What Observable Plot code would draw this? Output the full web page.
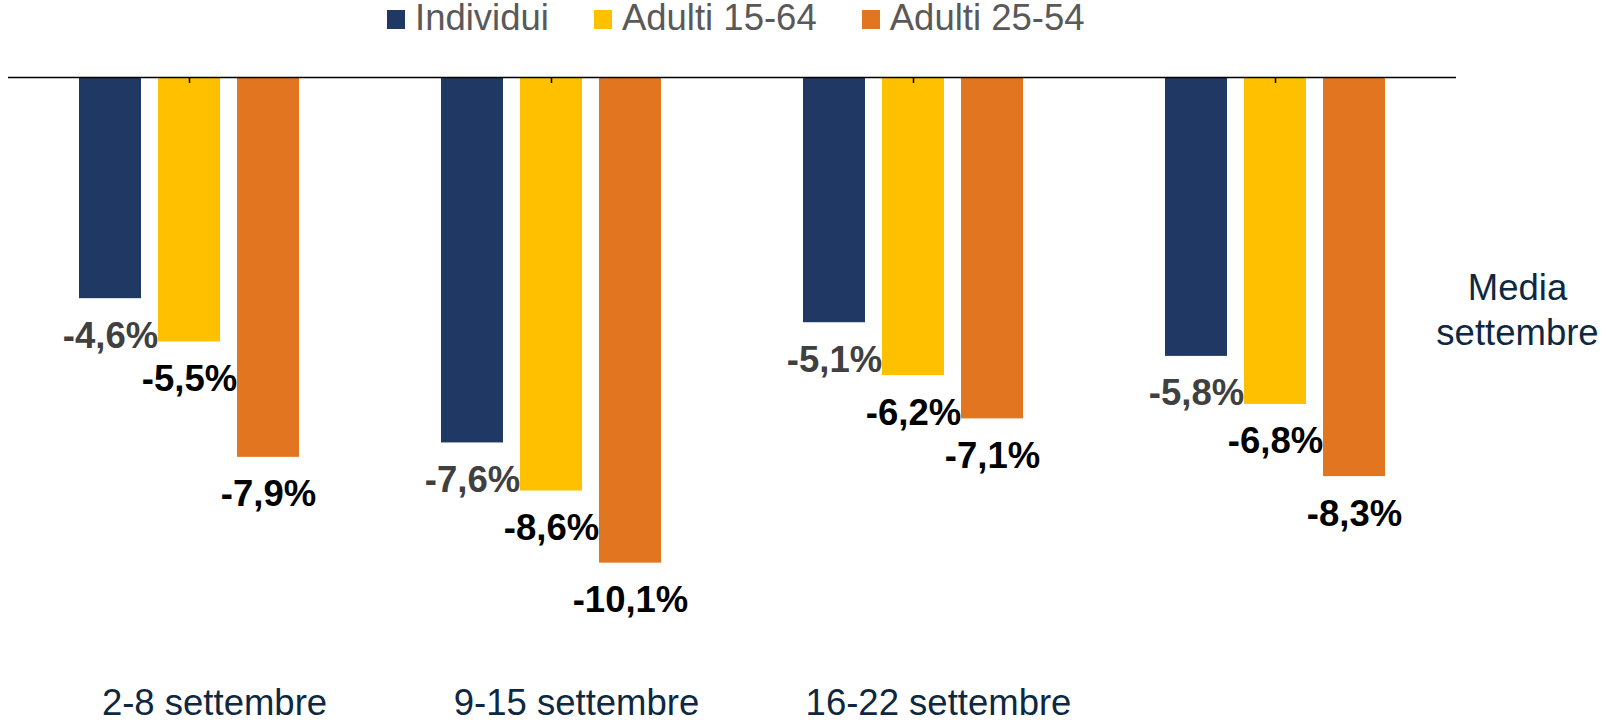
<!DOCTYPE html>
<html>
<head>
<meta charset="utf-8">
<script src="https://cdn.jsdelivr.net/npm/d3@7"></script>
<script src="https://cdn.jsdelivr.net/npm/@observablehq/plot@0.6"></script>
<style>
  html, body { margin: 0; padding: 0; background: #fff; }
  #wrap { position: relative; width: 1607px; height: 723px; font-family: "Liberation Sans", Arial, sans-serif; }
  #legend { position: absolute; left: 387px; top: 0; display: flex; align-items: flex-start; font-size: 36.5px; line-height: 36.5px; color: #595959; }
  .item { display: flex; align-items: flex-start; margin-right: 45px; }
  .sw { width: 18px; height: 19px; margin-top: 10px; margin-right: 10px; }
  svg { display: block; }
</style>
</head>
<body>
<div id="wrap"><div id="legend"></div></div>
<script>
const groups = ["2-8 settembre", "9-15 settembre", "16-22 settembre", "Media settembre"];
const series = ["Individui", "Adulti 15-64", "Adulti 25-54"];
const individui = [-4.6, -7.6, -5.1, -5.8];
const adulti1564 = [-5.5, -8.6, -6.2, -6.8];
const adulti2554 = [-7.9, -10.1, -7.1, -8.3];
const colors = ["#203864", "#FFC000", "#E2751F"];

const seriesValues = [individui, adulti1564, adulti2554];
const data = [];
groups.forEach((g, gi) => series.forEach((s, si) => data.push({group: g, series: s, value: seriesValues[si][gi]})));
const fmt = v => v.toFixed(1).replace(".", ",") + "%";
const lastGroup = groups[groups.length - 1];

// legend
const legend = document.getElementById("legend");
series.forEach((s, i) => {
  const it = document.createElement("div");
  it.className = "item";
  const sw = document.createElement("div");
  sw.className = "sw";
  sw.style.background = colors[i];
  const t = document.createElement("span");
  t.textContent = s;
  it.appendChild(sw); it.appendChild(t);
  legend.appendChild(it);
});

const chart = Plot.plot({
  width: 1607,
  height: 723,
  marginTop: 77,
  marginBottom: 69,
  marginLeft: 7,
  marginRight: 151,
  style: {fontFamily: "'Liberation Sans', Arial, sans-serif", fontSize: "36.5px", color: "#0E2841", background: "transparent"},
  fx: {domain: groups, padding: 0},
  x: {domain: series, axis: null, paddingInner: 0.2125, paddingOuter: 0.869},
  y: {domain: [-12, 0], axis: null},
  color: {domain: series, range: colors},
  marks: [
    Plot.barY(data, {fx: "group", x: "series", y: "value", fill: "series"}),
    Plot.ruleY([0], {stroke: "#000", strokeWidth: 1.6}),
    Plot.ruleX(groups, {fx: d => d, x: () => series[1], y1: () => 0, y2: () => 0, insetBottom: -6, stroke: "#000", strokeWidth: 1.5}),
    Plot.text(data.filter(d => d.series === series[0]), {fx: "group", x: "series", y: "value", text: d => fmt(d.value), lineAnchor: "bottom", dy: 49, fill: "#404040", fontWeight: "bold", fontSize: 36.5}),
    Plot.text(data.filter(d => d.series !== series[0]), {fx: "group", x: "series", y: "value", text: d => fmt(d.value), lineAnchor: "bottom", dy: 49, fill: "#000", fontWeight: "bold", fontSize: 36.5}),
    Plot.axisFx({anchor: "bottom", tickSize: 0, tickPadding: 35, dx: 25, label: null, fontSize: 36.5, fill: "#0E2841", tickFormat: d => d === lastGroup ? "" : d}),
    Plot.text([lastGroup], {fx: d => d, text: () => "Media\nsettembre", frameAnchor: "top", lineAnchor: "top", dx: 242, dy: 191, lineHeight: 1.23, fontSize: 36.5, fill: "#0E2841"})
  ]
});
document.getElementById("wrap").insertBefore(chart, document.getElementById("legend"));
chart.style.position = "absolute";
chart.style.left = "0";
chart.style.top = "0";
</script>
</body>
</html>
